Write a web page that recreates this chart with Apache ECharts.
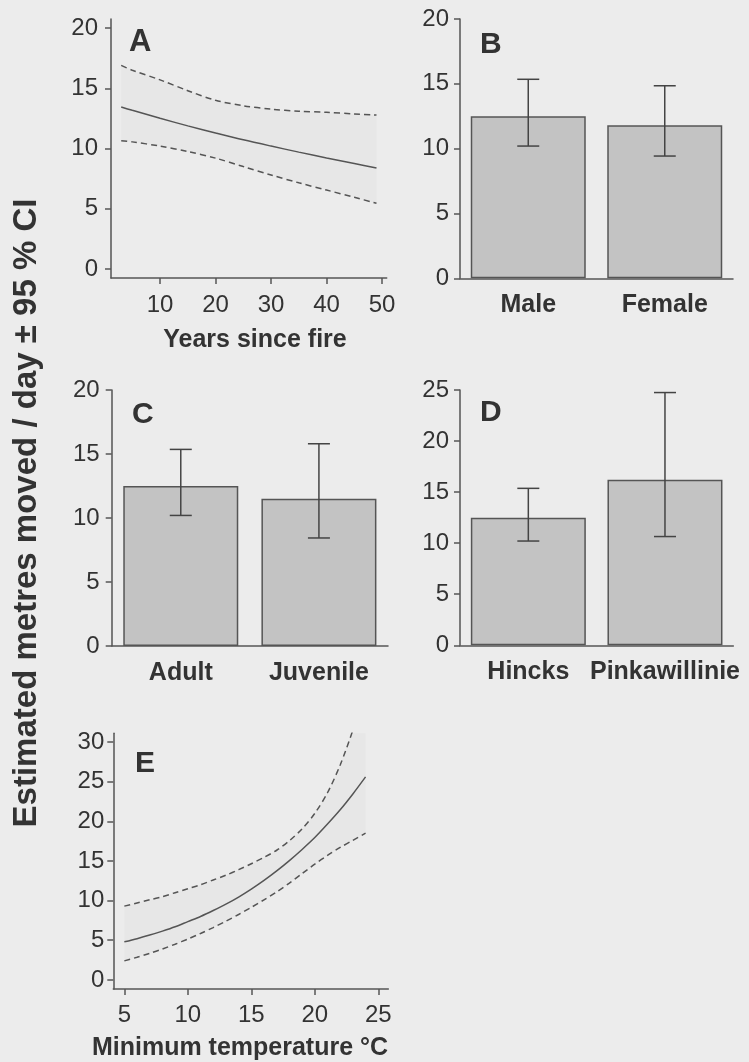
<!DOCTYPE html>
<html>
<head>
<meta charset="utf-8">
<script src="https://cdn.jsdelivr.net/npm/echarts@6/dist/echarts.min.js"></script>
<style>
  html, body { margin: 0; padding: 0; background: #ececec; }
  #chart { width: 749px; height: 1062px; }
</style>
</head>
<body>
<div id="chart"></div>
<script>
// Panel A: movement against years since fire (fit and 95 % CI)
const fireYears = [3, 5, 10, 15, 20, 25, 30, 35, 40, 45, 49];
const fireFit   = [13.44, 13.17, 12.51, 11.88, 11.29, 10.72, 10.2, 9.7, 9.22, 8.76, 8.38];
const fireUpper = [16.9, 16.5, 15.7, 14.8, 14.0, 13.55, 13.27, 13.1, 13.0, 12.87, 12.78];
const fireLower = [10.65, 10.55, 10.2, 9.75, 9.2, 8.5, 7.8, 7.15, 6.55, 5.95, 5.45];

// Panel B: sex
const sexCats = ['Male', 'Female'];
const sexMean = [12.5, 11.8];
const sexLo   = [10.2, 9.43];
const sexHi   = [15.35, 14.85];

// Panel C: age class
const ageCats = ['Adult', 'Juvenile'];
const ageMean = [12.5, 11.5];
const ageLo   = [10.2, 8.44];
const ageHi   = [15.36, 15.8];

// Panel D: site
const siteCats = ['Hincks', 'Pinkawillinie'];
const siteMean = [12.5, 16.2];
const siteLo   = [10.21, 10.65];
const siteHi   = [15.37, 24.75];

// Panel E: movement against minimum temperature (fit and 95 % CI)
const tempX     = [5, 6, 7, 8, 9, 10, 11, 12, 13, 14, 15, 16, 17, 18, 19, 20, 21, 22, 23, 24];
const tempFit   = [4.8, 5.2, 5.65, 6.15, 6.7, 7.35, 8.0, 8.75, 9.55, 10.45, 11.45, 12.55, 13.75, 15.05, 16.45, 17.95, 19.65, 21.45, 23.45, 25.6];
const tempUpper = [9.3, 9.7, 10.1, 10.5, 11.0, 11.5, 12.0, 12.6, 13.2, 13.9, 14.65, 15.45, 16.35, 17.55, 19.05, 21.0, 23.6, 27.1, 31.5, 36.5];
const tempLower = [2.4, 2.85, 3.35, 3.9, 4.5, 5.15, 5.85, 6.6, 7.4, 8.25, 9.15, 10.1, 11.1, 12.2, 13.4, 14.6, 15.7, 16.7, 17.6, 18.5];

// Tick labels
const fireTicks = [10, 20, 30, 40, 50];
const tempTicks = [5, 10, 15, 20, 25];
const yTicks20  = [0, 5, 10, 15, 20];
const yTicks25  = [0, 5, 10, 15, 20, 25];
const yTicks30  = [0, 5, 10, 15, 20, 25, 30];

const INK = '#555555';
const TXT = '#333333';
const FONT = 'Liberation Sans, Arial, sans-serif';

function pairs(xs, ys) { return xs.map((x, i) => [x, ys[i]]); }

function valueAxis(gridIndex, min, max, ticks, margin) {
  return {
    type: 'value', gridIndex, min, max,
    axisLine: { show: true, onZero: false, lineStyle: { color: INK, width: 1.5 } },
    axisTick: { show: true, length: 6, customValues: ticks, lineStyle: { color: INK, width: 1.5 } },
    axisLabel: { customValues: ticks, fontSize: 24, color: TXT, fontFamily: FONT, margin },
    splitLine: { show: false }
  };
}

function catAxis(gridIndex, cats, margin) {
  return {
    type: 'category', gridIndex, data: cats,
    axisLine: { show: true, onZero: false, lineStyle: { color: INK, width: 1.5 } },
    axisTick: { show: false },
    axisLabel: { fontSize: 25, fontWeight: 'bold', color: TXT, fontFamily: FONT, margin, interval: 0 },
    splitLine: { show: false }
  };
}

// Shaded confidence band drawn as one polygon through the axis scales
function bandSeries(axisIdx, xs, lo, hi) {
  const rows = xs.map((x, i) => [x, lo[i], hi[i]]);
  return {
    type: 'custom', xAxisIndex: axisIdx, yAxisIndex: axisIdx, clip: true, z: 1,
    data: rows,
    renderItem: function (params, api) {
      if (params.dataIndex !== 0) return;
      const top = rows.map(r => api.coord([r[0], r[2]]));
      const bot = rows.slice().reverse().map(r => api.coord([r[0], r[1]]));
      return { type: 'polygon', shape: { points: top.concat(bot) }, style: { fill: '#e7e7e7' } };
    }
  };
}

function curve(axisIdx, xs, ys, dashed) {
  return {
    type: 'line', xAxisIndex: axisIdx, yAxisIndex: axisIdx,
    data: pairs(xs, ys), showSymbol: false, smooth: 0.3, clip: true, z: 3,
    lineStyle: { color: INK, width: 1.5, type: dashed ? [6, 4] : 'solid' }
  };
}

function bars(axisIdx, means) {
  return {
    type: 'bar', xAxisIndex: axisIdx, yAxisIndex: axisIdx, data: means, barWidth: 115,
    itemStyle: { color: '#c3c3c3', borderColor: INK, borderWidth: 1.5 }, z: 2
  };
}

function errorBars(axisIdx, lo, hi) {
  return {
    type: 'custom', xAxisIndex: axisIdx, yAxisIndex: axisIdx, z: 4,
    data: lo.map((l, i) => [i, l, hi[i]]),
    renderItem: function (params, api) {
      const a = api.coord([api.value(0), api.value(1)]);
      const b = api.coord([api.value(0), api.value(2)]);
      const w = 11;
      const st = { stroke: '#444', lineWidth: 1.5 };
      return {
        type: 'group', children: [
          { type: 'line', shape: { x1: a[0], y1: a[1], x2: b[0], y2: b[1] }, style: st },
          { type: 'line', shape: { x1: a[0] - w, y1: a[1], x2: a[0] + w, y2: a[1] }, style: st },
          { type: 'line', shape: { x1: b[0] - w, y1: b[1], x2: b[0] + w, y2: b[1] }, style: st }
        ]
      };
    }
  };
}

function txt(text, x, y, size, align, rotation) {
  return {
    type: 'text', x, y, rotation: rotation || 0,
    style: { text, font: 'bold ' + size + 'px ' + FONT, fill: TXT, align: align || 'left', verticalAlign: 'middle' }
  };
}

const chart = echarts.init(document.getElementById('chart'), null, { renderer: 'canvas' });

chart.setOption({
  backgroundColor: '#ececec',
  animation: false,
  grid: [
    { left: 111,   top: 19,    width: 275.7, height: 259,   outerBoundsMode: 'none', containLabel: false },
    { left: 460,   top: 19,    width: 273,   height: 259.3, outerBoundsMode: 'none', containLabel: false },
    { left: 111.7, top: 390,   width: 276.3, height: 256,   outerBoundsMode: 'none', containLabel: false },
    { left: 460,   top: 390,   width: 273.3, height: 255.3, outerBoundsMode: 'none', containLabel: false },
    { left: 113.3, top: 733.3, width: 275,   height: 255.7, outerBoundsMode: 'none', containLabel: false }
  ],
  xAxis: [
    valueAxis(0, 1.16, 50.84, fireTicks, 15),
    catAxis(1, sexCats, 14),
    catAxis(2, ageCats, 15),
    catAxis(3, siteCats, 14),
    valueAxis(4, 4.13, 25.79, tempTicks, 14)
  ],
  yAxis: [
    valueAxis(0, -0.75, 20.75, yTicks20, 13),
    valueAxis(1, 0, 20, yTicks20, 11),
    valueAxis(2, 0, 20, yTicks20, 12),
    valueAxis(3, 0, 25, yTicks25, 11),
    valueAxis(4, -1.15, 31.1, yTicks30, 9)
  ],
  series: [
    bandSeries(0, fireYears, fireLower, fireUpper),
    curve(0, fireYears, fireUpper, true),
    curve(0, fireYears, fireLower, true),
    curve(0, fireYears, fireFit, false),

    bars(1, sexMean), errorBars(1, sexLo, sexHi),
    bars(2, ageMean), errorBars(2, ageLo, ageHi),
    bars(3, siteMean), errorBars(3, siteLo, siteHi),

    bandSeries(4, tempX, tempLower, tempUpper),
    curve(4, tempX, tempUpper, true),
    curve(4, tempX, tempLower, true),
    curve(4, tempX, tempFit, false)
  ],
  graphic: [
    txt('A', 129, 42, 31),
    txt('B', 480, 45, 30),
    txt('C', 132, 415, 30),
    txt('D', 480, 413, 30),
    txt('E', 135, 764, 30),
    txt('Years since fire', 255, 340, 25, 'center'),
    txt('Minimum temperature °C', 240, 1048, 25, 'center'),
    txt('Estimated metres moved / day ± 95 % CI', 27, 513, 33, 'center', Math.PI / 2)
  ]
});
</script>
</body>
</html>
